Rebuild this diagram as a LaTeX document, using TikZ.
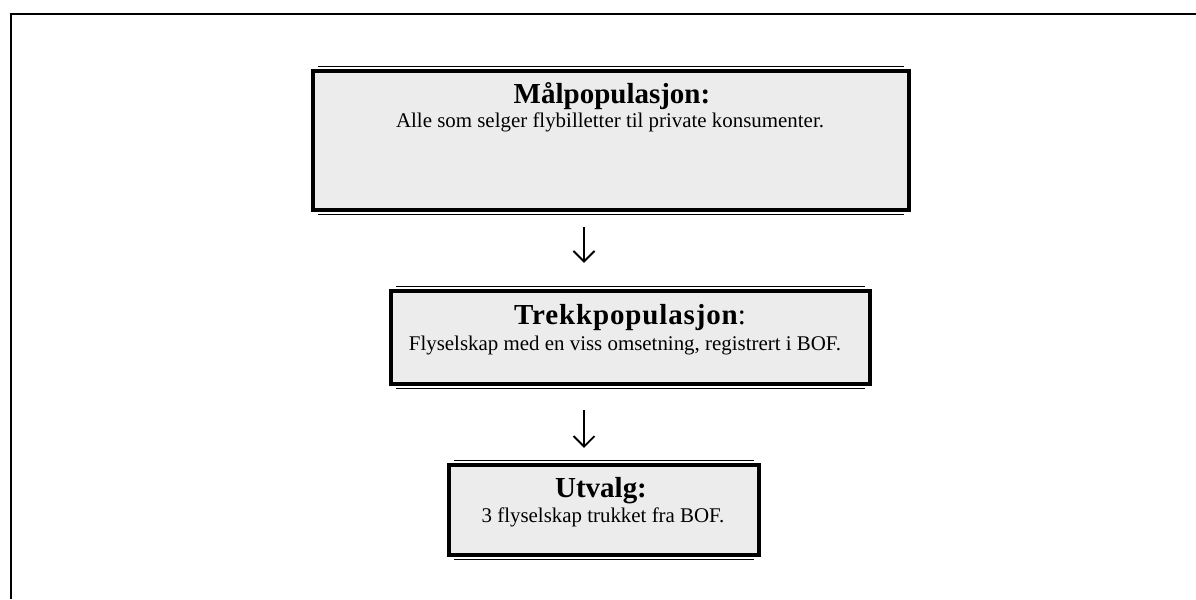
\documentclass[tikz,border=0pt]{standalone}
\usepackage{fontspec}
\setmainfont{Liberation Serif}
\usepackage{tikz}
\usetikzlibrary{arrows.meta}
\definecolor{boksgraa}{RGB}{236, 236, 236}

\begin{document}
\begin{tikzpicture}[x = 0.02cm, y = -0.02cm,
	boks/.style = {draw, line width = 2.2pt, fill = boksgraa, outer sep = 0pt, inner sep = 0pt},
	tynn/.style = {line width = 0.8pt},
	tittel/.style = {anchor = base, font = \fontsize{16.5}{20}\selectfont\bfseries},
	tekst/.style = {anchor = base, font = \fontsize{11.9}{14}\selectfont},
	pil/.style = {line width = 1.1pt, -{Straight Barb[length = 6pt, width = 12pt]}}]
			\useasboundingbox (0,0) rectangle (1196,599);
			\draw[line width = 1.1pt] (1196,14) -- (11,14) -- (11,599);
			\node (maal) at (611,140.5) [boks, minimum width = 11.92cm, minimum height = 2.78cm] {};
			\node (trekk) at (630.5,337.5) [boks, minimum width = 9.58cm, minimum height = 1.86cm] {};
			\node (utvalg) at (604,510) [boks, minimum width = 6.2cm, minimum height = 1.8cm] {};
			\draw[tynn] ([xshift = 3pt, yshift = 2.6pt]maal.north west) -- ([xshift = -3pt, yshift = 2.6pt]maal.north east);
			\draw[tynn] ([xshift = 3pt, yshift = -2.6pt]maal.south west) -- ([xshift = -3pt, yshift = -2.6pt]maal.south east);
			\draw[tynn] ([xshift = 3pt, yshift = 2.6pt]trekk.north west) -- ([xshift = -3pt, yshift = 2.6pt]trekk.north east);
			\draw[tynn] ([xshift = 3pt, yshift = -2.6pt]trekk.south west) -- ([xshift = -3pt, yshift = -2.6pt]trekk.south east);
			\draw[tynn] ([xshift = 3pt, yshift = 2.6pt]utvalg.north west) -- ([xshift = -3pt, yshift = 2.6pt]utvalg.north east);
			\draw[tynn] ([xshift = 3pt, yshift = -2.6pt]utvalg.south west) -- ([xshift = -3pt, yshift = -2.6pt]utvalg.south east);
			\node (maaltittel) at (612,103) [tittel] {Målpopulasjon:};
			\node (maaltekst) at (610,127) [tekst] {Alle som selger flybilletter til private konsumenter.};
			\node (trekktittel) at (630,324) [tittel] {\addfontfeature{LetterSpace=3}Trekkpopulasjon{\mdseries:}};
			\node (trekktekst) at (625,350) [tekst] {Flyselskap med en viss omsetning, registrert i BOF.};
			\node (utvalgtittel) at (601,497) [tittel] {Utvalg:};
			\node (utvalgtekst) at (603,522) [tekst] {3 flyselskap trukket fra BOF.};
			\coordinate (pilx) at (584,0);
			\draw[pil, shorten <= 9.7pt, shorten >= 16pt] (maal.south -| pilx) -- (trekk.north -| pilx);
			\draw[pil, shorten <= 14.8pt, shorten >= 9.7pt] (trekk.south -| pilx) -- (utvalg.north -| pilx);
			\end{tikzpicture}
\end{document}
